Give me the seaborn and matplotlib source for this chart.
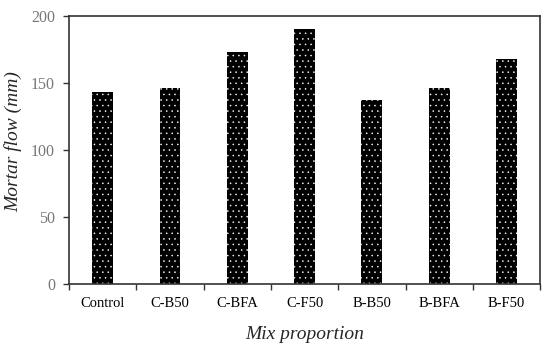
import pandas as pd
import numpy as np
import matplotlib.pyplot as plt
import seaborn as sns

mixes = ["Control", "C-B50", "C-BFA", "C-F50", "B-B50", "B-BFA", "B-F50"]
flow = [143, 146, 173, 190, 137, 146, 168]

df = pd.DataFrame({"mix": mixes, "flow": flow})

sns.set_style("white")
plt.rcParams['font.family'] = ['Liberation Serif', 'DejaVu Serif']
plt.rcParams['hatch.linewidth'] = 0.35

fig = plt.figure(figsize=(5.5, 3.46), dpi=100)
ax = fig.add_axes([0.1255, 0.179, 0.8565, 0.775])

sns.barplot(data=df, x="mix", y="flow", color="black", width=0.31, ax=ax)
for p in ax.patches:
    p.set_facecolor("black")
    p.set_edgecolor("white")
    p.set_hatch("...")
    p.set_linewidth(0)

ax.set_ylim(0, 200)
ax.set_xlim(-0.5, len(mixes) - 0.5)
ax.set_yticks([0, 50, 100, 150, 200])
ax.set_xticks(np.arange(len(mixes)))
ax.set_xticklabels(mixes)
ax.set_xticks(np.arange(len(mixes) + 1) - 0.5, minor=True)
ax.tick_params(axis="x", which="major", bottom=True, length=0, pad=9, labelsize=10.5, labelcolor="black")
ax.tick_params(axis="x", which="minor", bottom=True, length=4, width=1, direction="out", color="#333333")
ax.tick_params(axis="y", left=True, length=4, width=1, direction="out", color="#333333", labelsize=11.5, labelcolor="#777777", pad=6)

for s in ax.spines.values():
    s.set_color("#333333")
    s.set_linewidth(1.2)

ax.set_ylabel("Mortar flow (mm)", fontsize=14, style="italic")
ax.yaxis.set_label_coords(-0.1, 0.53)
ax.set_xlabel("Mix proportion", fontsize=14, style="italic", labelpad=12)

fig.savefig("out.png", dpi=100)
